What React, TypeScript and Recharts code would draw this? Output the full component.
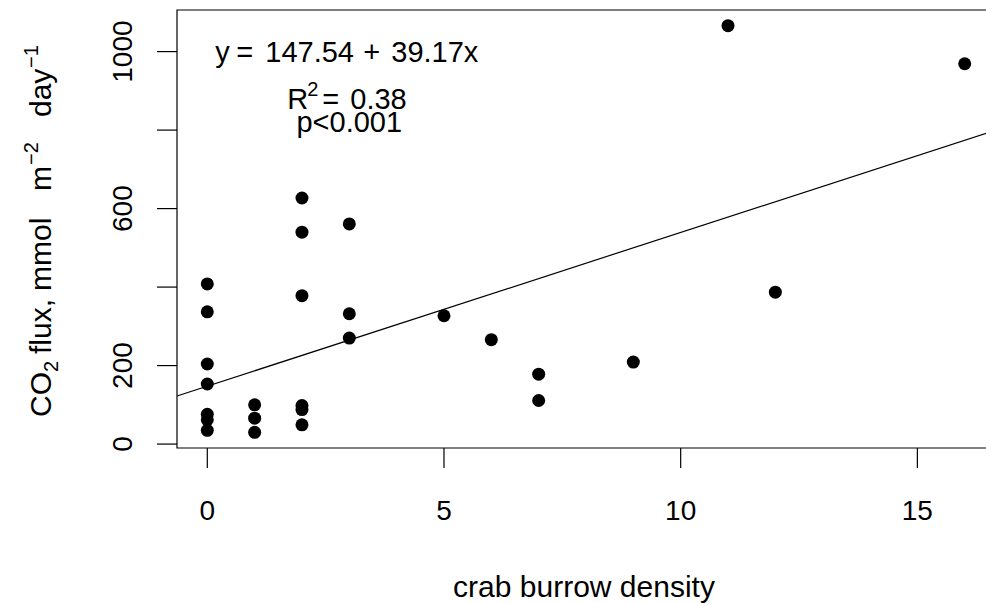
import { ScatterChart, Scatter, XAxis, YAxis, ReferenceLine, ReferenceArea } from "recharts"

// crab burrow density vs CO2 flux (mmol m-2 day-1)
const burrowDensity = [0, 0, 0, 0, 0, 0, 0, 1, 1, 1, 2, 2, 2, 2, 2, 2, 3, 3, 3, 5, 6, 7, 7, 9, 11, 12, 16]
const co2Flux = [408, 337, 204, 153, 76, 62, 35, 100, 66, 30, 627, 540, 378, 98, 88, 49, 561, 332, 270, 327, 266, 178, 111, 209, 1066, 387, 969]

const xTicks = [0, 5, 10, 15]
const yTicks = [0, 200, 400, 600, 800, 1000]
const yTickLabels = ["0", "200", "", "600", "", "1000"]

// fitted model, y = a + b x
const intercept = 147.54
const slope = 39.17
const rSquared = "0.38"
const pValue = "p<0.001"
const xDomain = [-0.64, 16.64]
const yDomain = [-10, 1106]

const noteX = [3, 3, 3]
const noteY = [1000, 880, 820]
const notes = ["eq", "r2", "p"]

const points = burrowDensity.map((x, i) => ({ x, y: co2Flux[i] }))
const noteData = notes.map((kind, i) => ({ x: noteX[i], y: noteY[i], kind }))

const font = "'Liberation Sans', Arial, sans-serif"
const fs = 28

function Dot(props: any) {
  return <circle cx={props.cx} cy={props.cy} r={6.5} fill="#000" />
}

function Note(props: any) {
  const { cx, cy, payload } = props
  const y = cy + 10
  const common = { y, fontFamily: font, fontSize: 29, fill: "#000" }
  if (payload.kind === "eq") {
    // plotmath puts wide gaps round = and +
    return (
      <text {...common}>
        <tspan x={cx - 134}>y</tspan>
        <tspan x={cx - 113}>=</tspan>
        <tspan x={cx - 84}>{intercept}</tspan>
        <tspan x={cx + 14}>+</tspan>
        <tspan x={cx + 42}>{`${slope}x`}</tspan>
      </text>
    )
  }
  if (payload.kind === "r2") {
    return (
      <text {...common}>
        <tspan x={cx - 62}>R</tspan>
        <tspan x={cx - 42} dy={-13} fontSize={20}>2</tspan>
        <tspan x={cx - 27} dy={13}>=</tspan>
        <tspan x={cx + 1}>{rSquared}</tspan>
      </text>
    )
  }
  return (
    <text {...common} x={cx} textAnchor="middle">
      {pValue}
    </text>
  )
}

function XTick(props: any) {
  const { x, y, payload } = props
  return (
    <text x={x} y={y} textAnchor="middle" fontFamily={font} fontSize={fs} fill="#000">
      {payload.value}
    </text>
  )
}

function YTick(props: any) {
  const { x, y, payload, index } = props
  const label = yTickLabels[index] ?? ""
  if (!label) return <g />
  return (
    <text
      transform={`translate(${x},${y}) rotate(-90)`}
      textAnchor="middle"
      fontFamily={font}
      fontSize={fs}
      fill="#000"
    >
      {label || payload.value}
    </text>
  )
}

function YLabel(props: any) {
  const vb = props.viewBox
  const bx = vb.x + 51
  const by = vb.y + vb.height / 2 + 188
  return (
    <text transform={`translate(${bx},${by}) rotate(-90)`} fontFamily={font} fontSize={30} fill="#000">
      <tspan x={0}>CO</tspan>
      <tspan x={45} dy={7} fontSize={20}>2</tspan>
      <tspan x={63} dy={-7}>flux,</tspan>
      <tspan x={126}>mmol</tspan>
      <tspan x={226}>m</tspan>
      <tspan x={252} dy={-13} fontSize={20}>−2</tspan>
      <tspan x={300} dy={13}>day</tspan>
      <tspan x={349} dy={-13} fontSize={20}>−1</tspan>
    </text>
  )
}

function XLabel(props: any) {
  const vb = props.viewBox
  return (
    <text x={vb.x + vb.width / 2 - 2} y={vb.y + 149} textAnchor="middle" fontFamily={font} fontSize={30} fill="#000">
      crab burrow density
    </text>
  )
}

export default function App() {
  const lineEnds = xDomain.map((x) => ({ x, y: intercept + slope * x }))
  return (
    <div style={{ position: "absolute", left: 0, top: 0, width: 986, height: 603, overflow: "hidden", background: "#fff" }}>
      <ScatterChart width={995} height={603} margin={{ top: 10, right: 0, bottom: 0, left: 0 }}>
        <XAxis
          type="number"
          dataKey="x"
          domain={xDomain}
          ticks={xTicks}
          allowDataOverflow
          axisLine={false}
          tickSize={20}
          tickMargin={52}
          tickLine={{ stroke: "#000", strokeWidth: 1.2 }}
          tick={<XTick />}
          height={155}
          label={<XLabel />}
        />
        <YAxis
          type="number"
          dataKey="y"
          domain={yDomain}
          ticks={yTicks}
          allowDataOverflow
          axisLine={false}
          tickSize={20}
          tickMargin={25}
          tickLine={{ stroke: "#000", strokeWidth: 1.2 }}
          tick={<YTick />}
          width={177}
          label={<YLabel />}
        />
        <ReferenceArea
          x1={xDomain[0]}
          x2={xDomain[1]}
          y1={yDomain[0]}
          y2={yDomain[1]}
          fill="none"
          fillOpacity={0}
          stroke="#000"
          strokeWidth={1.2}
          strokeOpacity={1}
        />
        <ReferenceLine segment={lineEnds} stroke="#000" strokeWidth={1.2} />
        <Scatter data={points} shape={<Dot />} isAnimationActive={false} />
        <Scatter data={noteData} shape={<Note />} isAnimationActive={false} />
      </ScatterChart>
    </div>
  )
}
